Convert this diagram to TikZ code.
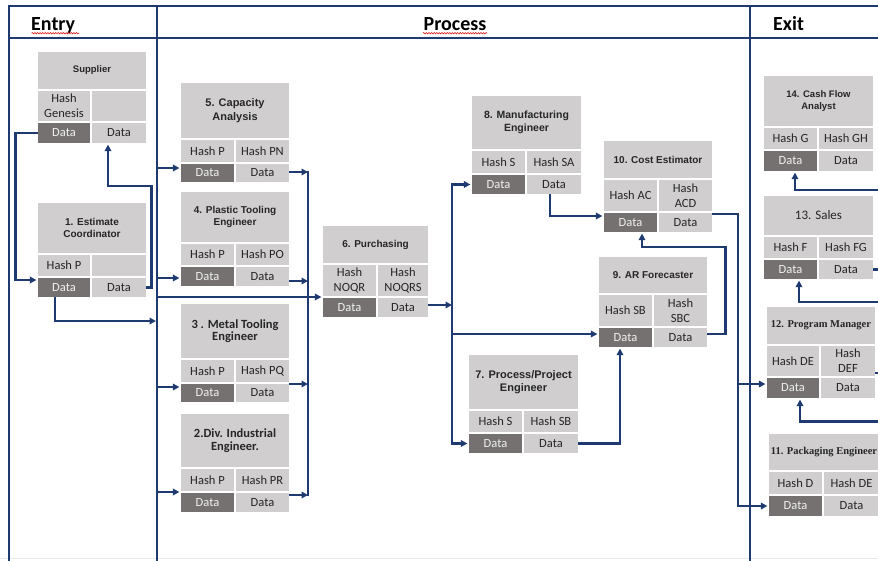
\documentclass[tikz,border=0pt]{standalone}
\usepackage{fontspec}
\setmainfont{Carlito}
\newfontfamily\arialf{Liberation Sans}
\newfontfamily\timesf{Liberation Serif}
\usetikzlibrary{arrows.meta,decorations.pathmorphing}

\definecolor{navy}{HTML}{1F3A70}
\definecolor{lite}{HTML}{D0CECE}
\definecolor{dark}{HTML}{767171}
\definecolor{ink}{HTML}{262626}

% title fonts
\newcommand\fA[2]{\arialf\bfseries\fontsize{#1}{#2}\selectfont}
\newcommand\fB[2]{\bfseries\fontsize{#1}{#2}\selectfont}
\newcommand\fC[2]{\timesf\bfseries\fontsize{#1}{#2}\selectfont}
\newcommand\fR[2]{\fontsize{#1}{#2}\selectfont}
\newcommand\fH{\fontsize{12.5}{15}\selectfont}

\tikzset{
  lane/.style={draw=navy,line width=2.6pt,line cap=rect},
  conn/.style={draw=navy,line width=2.4pt,line cap=rect},
  arr/.style={conn,-{Triangle[length=6.5pt,width=6.5pt]}},
  cell/.style={rectangle,draw=white,line width=1.2pt,inner sep=0pt,align=center,text=ink},
  hdr/.style={font=\bfseries\fontsize{20}{22}\selectfont,inner sep=0pt,anchor=base west},
  squiggle/.style={draw=red!85!black,line width=0.5pt,decorate,
    decoration={snake,amplitude=0.7pt,segment length=2.6pt}}
}

% geometry and texts of one record block
\pgfkeys{/blk/.is family}
\pgfkeys{/blk/.cd,
  L/.store in=\bL, S/.store in=\bS, R/.store in=\bR,
  T/.store in=\bT, H/.store in=\bH, D/.store in=\bD, B/.store in=\bB,
  title/.store in=\bTitle, tf/.store in=\bTf,
  hl/.store in=\bHl, hr/.store in=\bHr}

\newcommand\blk[2]{%
  \pgfkeys{/blk/.cd,hl=,hr=,#2}%
  \node[cell,fill=lite,font=\bTf,
        minimum width={(\bR-\bL)*1pt},minimum height={(\bH-\bT)*1pt}]
    (#1-t) at ({(\bL+\bR)/2},{(\bT+\bH)/2}) {\bTitle};
  \node[cell,fill=lite,font=\fH,
        minimum width={(\bS-\bL)*1pt},minimum height={(\bD-\bH)*1pt}]
    (#1-h1) at ({(\bL+\bS)/2},{(\bH+\bD)/2}) {\bHl};
  \node[cell,fill=lite,font=\fH,
        minimum width={(\bR-\bS)*1pt},minimum height={(\bD-\bH)*1pt}]
    (#1-h2) at ({(\bS+\bR)/2},{(\bH+\bD)/2}) {\bHr};
  \node[cell,fill=dark,text=white!94!black,font=\fH,
        minimum width={(\bS-\bL)*1pt},minimum height={(\bB-\bD)*1pt}]
    (#1-d1) at ({(\bL+\bS)/2},{(\bD+\bB)/2}) {Data};
  \node[cell,fill=lite,font=\fH,
        minimum width={(\bR-\bS)*1pt},minimum height={(\bB-\bD)*1pt}]
    (#1-d2) at ({(\bS+\bR)/2},{(\bD+\bB)/2}) {Data};
}

\begin{document}
\begin{tikzpicture}[x=1pt,y=-1pt]
\useasboundingbox (0,0) rectangle (878,560);
\clip (0,0) rectangle (878,560);
\fill[white] (0,0) rectangle (878,560);

% swim-lane frame
\draw[draw=black!9,line width=1pt] (0,558.5) -- (878,558.5);
\draw[lane] (9,565) -- (9,6) -- (885,6);
\draw[lane] (9,38) -- (885,38);
\draw[lane] (157,6) -- (157,565);
\draw[lane] (750,6) -- (750,565);

% lane headers
\node[hdr] (hEntry) at (31,30) {Entry};
\node[hdr,anchor=base] (hProcess) at (455,30) {Process};
\node[hdr] (hExit) at (773,30) {Exit};
\draw[squiggle] ([xshift=0.5pt,yshift=-3.2pt]hEntry.base west) -- ([xshift=4pt,yshift=-3.2pt]hEntry.base east);
\draw[squiggle] ([xshift=-0.5pt,yshift=-3.2pt]hProcess.base west) -- ([xshift=0.5pt,yshift=-3.2pt]hProcess.base east);

% record blocks
\blk{sup}{L=37,S=91,R=147,T=51,H=90,D=122,B=144,tf=\fA{9.5}{11},
  title={Supplier},hl={Hash\\Genesis}}
\blk{ec}{L=37,S=91,R=147,T=202,H=254,D=277,B=298,tf=\fA{10}{12.5},
  title={1. Estimate\\Coordinator},hl={Hash P}}
\blk{cap}{L=180,S=235,R=290,T=82,H=139,D=163,B=183,tf=\fA{11}{13.5},
  title={5. Capacity\\Analysis},hl={Hash P},hr={Hash PN}}
\blk{pl}{L=180,S=235,R=290,T=191,H=243,D=266,B=287,tf=\fA{10}{12},
  title={4. Plastic Tooling\\Engineer},hl={Hash P},hr={Hash PO}}
\blk{mt}{L=180,S=235,R=290,T=303,H=359,D=383,B=403,tf=\fB{12.5}{12.5},
  title={3 . Metal Tooling\\Engineer},hl={Hash P},hr={Hash PQ}}
\blk{dv}{L=180,S=235,R=290,T=413,H=468,D=492,B=513,tf=\fB{12.5}{13.5},
  title={2.Div. Industrial\\Engineer.},hl={Hash P},hr={Hash PR}}
\blk{pu}{L=322,S=377,R=429,T=225,H=264,D=297,B=318,tf=\fA{10}{12},
  title={6. Purchasing},hl={Hash\\NOQR},hr={Hash\\NOQRS}}
\blk{mf}{L=471,S=526,R=582,T=95,H=150,D=174,B=195,tf=\fA{10.5}{13.5},
  title={8. Manufacturing\\Engineer},hl={Hash S},hr={Hash SA}}
\blk{ce}{L=603,S=658,R=713,T=140,H=179,D=212,B=233,tf=\fA{10}{12},
  title={10. Cost Estimator},hl={Hash AC},hr={Hash\\ACD}}
\blk{ar}{L=598,S=653,R=708,T=256,H=294,D=327,B=348,tf=\fA{10}{12},
  title={9. AR Forecaster},hl={Hash SB},hr={Hash\\SBC}}
\blk{pp}{L=468,S=523,R=579,T=354,H=410,D=433,B=454,tf=\fA{11}{13.5},
  title={7. Process/Project\\Engineer},hl={Hash S},hr={Hash SB}}
\blk{cf}{L=763,S=818,R=874,T=75,H=127,D=150,B=172,tf=\fA{9.5}{11.5},
  title={14. Cash Flow\\Analyst},hl={Hash G},hr={Hash GH}}
\blk{sa}{L=763,S=818,R=874,T=195,H=236,D=259,B=280,tf=\fR{13}{15},
  title={13. Sales},hl={Hash F},hr={Hash FG}}
\blk{pm}{L=766,S=820,R=876,T=306,H=345,D=377,B=399,tf=\fC{10.5}{12},
  title={12. Program Manager},hl={Hash DE},hr={Hash\\DEF}}
\blk{pk}{L=768,S=823,R=880,T=433,H=471,D=495,B=517,tf=\fC{10.5}{12},
  title={11. Packaging Engineer},hl={Hash D},hr={Hash DE}}

% bus lines
\coordinate (busA) at (157,0);
\coordinate (busB) at (308,0);
\coordinate (busC) at (452,0);
\coordinate (busD) at (738,0);
\coordinate (ecOut) at (156,321);

% entry lane
\draw[arr] (sup-d1.west) -- ++(-21,0) |- ([yshift=7.5pt]ec-d1.west);
\draw[arr] (ec-d2.east) -- ++(4,0) -- ++(0,-101.5) -| ([xshift=-11pt]sup-d2.south);
\draw[arr] ([xshift=-9pt]ec-d1.south) |- (ecOut);

% distribution from the lane divider
\draw[arr] ([yshift=5pt]busA |- cap-d1.west) -- ([yshift=5pt]cap-d1.west);
\draw[arr] ([yshift=-1.5pt]busA |- pl-d1.west) -- ([yshift=-1.5pt]pl-d1.west);
\draw[arr] ([yshift=10.5pt]busA |- pu-d1.west) -- ([yshift=10.5pt]pu-d1.west);
\draw[arr] ([yshift=6pt]busA |- mt-d1.west) -- ([yshift=6pt]mt-d1.west);
\draw[arr] ([yshift=10.5pt]busA |- dv-d1.west) -- ([yshift=10.5pt]dv-d1.west);

% collection of the engineering outputs
\draw[conn] ([yshift=1pt]busB |- cap-d2.east) -- ([yshift=7.5pt]busB |- dv-d2.east);
\draw[arr] ([yshift=1pt]cap-d2.east) -- ([yshift=1pt]busB |- cap-d2.east);
\draw[arr] ([yshift=-4.5pt]pl-d2.east) -- ([yshift=-4.5pt]busB |- pl-d2.east);
\draw[arr] ([yshift=9pt]mt-d2.east) -- ([yshift=9pt]busB |- mt-d2.east);
\draw[arr] ([yshift=7.5pt]dv-d2.east) -- ([yshift=7.5pt]busB |- dv-d2.east);

% purchasing fan-out
\draw[arr] ([yshift=2.5pt]pu-d2.east) -- ([yshift=2.5pt]busC |- pu-d2.east);
\draw[conn] (busC |- mf-d1.west) -- (busC |- pp-d1.west);
\draw[arr] (busC |- mf-d1.west) -- (mf-d1.west);
\draw[arr] ([yshift=3.5pt]busC |- ar-d1.west) -- ([yshift=3.5pt]ar-d1.west);
\draw[arr] (busC |- pp-d1.west) -- (pp-d1.west);

% towards the cost estimator
\draw[arr] ([xshift=-4pt]mf-d2.south) |- ([yshift=6.5pt]ce-d1.west);
\draw[arr] ([yshift=3.5pt]ar-d2.east) -- ++(17,0) -- ++(0,-87) -| ([xshift=11.5pt]ce-d1.south);
\draw[arr] (pp-d2.east) -| ([xshift=-5.5pt]ar-d1.south);

% cost estimator to the exit lane
\draw[arr] ([yshift=8.5pt]ce-d2.east) -| (busD |- pk-d1.west) -- (pk-d1.west);
\draw[arr] ([yshift=4pt]busD |- pm-d1.west) -- ([yshift=4pt]pm-d1.west);

% exit lane chain
\draw[arr] (pk-d2.east) -- ++(8,0) -- ++(0,-84.5) -| ([xshift=7pt]pm-d1.south);
\draw[arr] ([yshift=15pt]pm-d2.east) -- ++(6,0) -- ++(0,-71) -| ([xshift=8.5pt]sa-d1.south);
\draw[arr] (sa-d2.east) -- ++(8,0) -- ++(0,-79.5) -| ([xshift=4.5pt]cf-d1.south);
\end{tikzpicture}
\end{document}
